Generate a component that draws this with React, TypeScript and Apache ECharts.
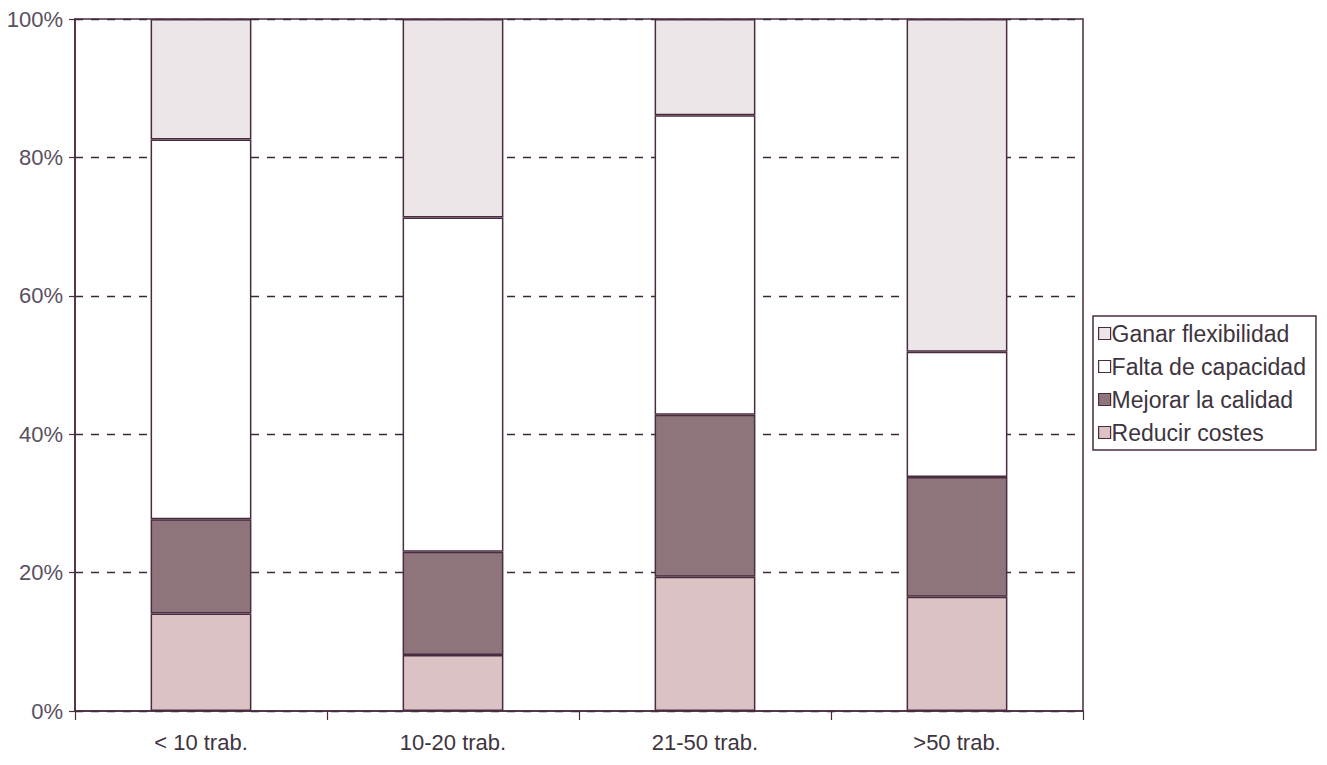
import React, { useEffect, useRef } from "react";
import * as echarts from "echarts";

const categories = ["< 10 trab.", "10-20 trab.", "21-50 trab.", ">50 trab."];
const reducirCostes = [14.1, 8.1, 19.4, 16.5];
const mejorarCalidad = [13.6, 14.9, 23.4, 17.3];
const faltaCapacidad = [54.9, 48.3, 43.3, 18.1];
const ganarFlexibilidad = [17.4, 28.7, 13.9, 48.1];
const legendOrder = ["Ganar flexibilidad", "Falta de capacidad", "Mejorar la calidad", "Reducir costes"];

const FONT = "Liberation Sans, Arial, sans-serif";
const EDGE = "#4a2c40";

export default function App() {
  const ref = useRef<HTMLDivElement>(null);
  useEffect(() => {
    if (!ref.current) return;
    const chart = echarts.init(ref.current, null, { renderer: "svg" });
    const mk = (name: string, data: number[], color: string) => ({
      name,
      type: "bar",
      stack: "total",
      data,
      barWidth: "40%",
      itemStyle: { color, borderColor: EDGE, borderWidth: 1.5 },
    });
    chart.setOption({
      animation: false,
      backgroundColor: "#ffffff",
      textStyle: { fontFamily: FONT },
      grid: {
        left: 75,
        right: 244,
        top: 19,
        bottom: 54,
        show: true,
        borderColor: EDGE,
        borderWidth: 1.5,
        backgroundColor: "transparent",
      },
      legend: {
        orient: "vertical",
        left: 1093,
        top: 316,
        data: legendOrder,
        itemWidth: 12,
        itemHeight: 12,
        itemGap: 10,
        padding: [6, 10, 6, 5],
        borderColor: EDGE,
        borderWidth: 1.5,
        icon: "rect",
        itemStyle: { borderColor: EDGE, borderWidth: 1.2 },
        textStyle: { fontFamily: FONT, fontSize: 23, color: "#3d3440", padding: [0, 0, 0, -4] },
      },
      xAxis: {
        type: "category",
        data: categories,
        axisLine: { lineStyle: { color: EDGE, width: 1.5 } },
        axisTick: { show: true, length: 9, lineStyle: { color: EDGE, width: 1.2 } },
        axisLabel: { fontFamily: FONT, fontSize: 22, color: "#3d3440", margin: 20 },
      },
      yAxis: {
        type: "value",
        min: 0,
        max: 100,
        interval: 20,
        axisLine: { show: true, lineStyle: { color: EDGE, width: 1.5 } },
        axisTick: { show: true, length: 6, lineStyle: { color: EDGE, width: 1.2 } },
        axisLabel: { fontFamily: FONT, fontSize: 22, color: "#5a5060", formatter: "{value}%", margin: 12 },
        splitLine: { show: true, lineStyle: { color: "#3a2a38", type: [8, 8], width: 1.3 } },
      },
      series: [
        mk("Reducir costes", reducirCostes, "#dcc2c5"),
        mk("Mejorar la calidad", mejorarCalidad, "#8f757b"),
        mk("Falta de capacidad", faltaCapacidad, "#ffffff"),
        mk("Ganar flexibilidad", ganarFlexibilidad, "#ece6e8"),
      ],
    });
    return () => chart.dispose();
  }, []);
  return <div ref={ref} style={{ position: "fixed", left: 0, top: 0, width: 1327, height: 765 }} />;
}
